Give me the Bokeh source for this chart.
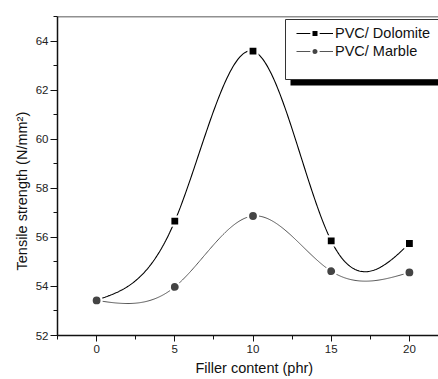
import numpy as np
from bokeh.plotting import figure
from bokeh.models import (Range1d, Legend, LegendItem, BoxAnnotation, Span, Title,
                          SingleIntervalTicker)
from bokeh.embed import file_html
from bokeh.resources import INLINE

filler = [0, 5, 10, 15, 20]
dolomite = [53.45, 56.66, 63.59, 55.86, 55.75]
marble = [53.43, 53.98, 56.87, 54.62, 54.57]
series_names = ["PVC/ Dolomite", "PVC/ Marble"]
x_label = "Filler content (phr)"
y_label = "Tensile strength (N/mm\u00b2)"

FONT = "Liberation Sans"


def natural_spline(x, y, n=300):
    x = np.asarray(x, float)
    y = np.asarray(y, float)
    k = len(x)
    h = np.diff(x)
    A = np.zeros((k, k))
    b = np.zeros(k)
    A[0, 0] = 1
    A[-1, -1] = 1
    for i in range(1, k - 1):
        A[i, i - 1] = h[i - 1]
        A[i, i] = 2 * (h[i - 1] + h[i])
        A[i, i + 1] = h[i]
        b[i] = 6 * ((y[i + 1] - y[i]) / h[i] - (y[i] - y[i - 1]) / h[i - 1])
    M = np.linalg.solve(A, b)
    xs = np.linspace(x[0], x[-1], n)
    idx = np.clip(np.searchsorted(x, xs) - 1, 0, k - 2)
    x0 = x[idx]
    x1 = x[idx + 1]
    hh = x1 - x0
    t0 = x1 - xs
    t1 = xs - x0
    ys = (M[idx] * t0 ** 3 / (6 * hh) + M[idx + 1] * t1 ** 3 / (6 * hh)
          + (y[idx] / hh - M[idx] * hh / 6) * t0
          + (y[idx + 1] / hh - M[idx + 1] * hh / 6) * t1)
    return xs, ys


p = figure(width=438, height=379, x_range=Range1d(-2.5, 21.86), y_range=Range1d(52, 65),
           output_backend="svg", toolbar_location=None,
           min_border_left=57, min_border_right=0, min_border_top=16, min_border_bottom=44)
p.outline_line_color = None
p.grid.visible = False
p.background_fill_color = "white"

p.xaxis.ticker = SingleIntervalTicker(interval=5, num_minor_ticks=2)
p.yaxis.ticker = SingleIntervalTicker(interval=2, num_minor_ticks=2)
for ax in (p.xaxis, p.yaxis):
    ax.axis_line_width = 1.5
    ax.axis_line_color = "#111111"
    ax.major_tick_in = 0
    ax.minor_tick_in = 0
    ax.major_tick_line_color = "#111111"
    ax.minor_tick_line_color = "#111111"
    ax.major_label_text_font = FONT
    ax.major_label_text_font_size = "11.5px"
    ax.major_label_text_color = "#222222"
p.xaxis.major_tick_out = 6
p.xaxis.minor_tick_out = 4
p.xaxis.major_label_standoff = 3
p.yaxis.major_tick_out = 7
p.yaxis.minor_tick_out = 4
p.yaxis.major_label_standoff = 2

p.add_layout(Span(location=65, dimension="width", line_color="#222222", line_width=1.5))

xd, yd = natural_spline(filler, dolomite)
xm, ym = natural_spline(filler, marble)

l1 = p.line(xd, yd, line_color="black", line_width=1.1)
l2 = p.line(xm, ym, line_color="#555555", line_width=1)
s1 = p.scatter(filler, dolomite, marker="square", size=9, fill_color="black",
               line_color="white", line_width=2.2)
s2 = p.scatter(filler, marble, marker="circle", size=10, fill_color="#444444",
               line_color="white", line_width=2.2)

xt = Title(text=x_label, align="left", offset=138, text_font=FONT,
           text_font_size="14.5px", text_font_style="normal", text_color="#111111", standoff=5)
p.add_layout(xt, "below")
yt = Title(text=y_label, align="left", offset=65, text_font=FONT,
           text_font_size="14.5px", text_font_style="normal", text_color="#111111", standoff=5)
p.add_layout(yt, "left")

shadow = BoxAnnotation(left=290, right=460, top=78, bottom=85,
                       left_units="canvas", right_units="canvas",
                       top_units="canvas", bottom_units="canvas",
                       fill_color="black", fill_alpha=1, line_color=None)
box = BoxAnnotation(left=285, right=460, top=19, bottom=79,
                    left_units="canvas", right_units="canvas",
                    top_units="canvas", bottom_units="canvas",
                    fill_color="white", fill_alpha=1, line_color="#333333", line_width=1,
                    line_alpha=1)
p.add_layout(shadow)
p.add_layout(box)

legend = Legend(items=[LegendItem(label=series_names[0], renderers=[l1, s1]),
                       LegendItem(label=series_names[1], renderers=[l2, s2])],
                location=(239, 275), border_line_color=None, background_fill_alpha=0,
                padding=0, spacing=0, margin=0, glyph_width=37, glyph_height=18,
                label_height=18, label_standoff=2, label_text_font=FONT,
                label_text_font_size="14.5px", label_text_color="#111111")
p.add_layout(legend)

open("out.html", "w").write(file_html(p, INLINE))
